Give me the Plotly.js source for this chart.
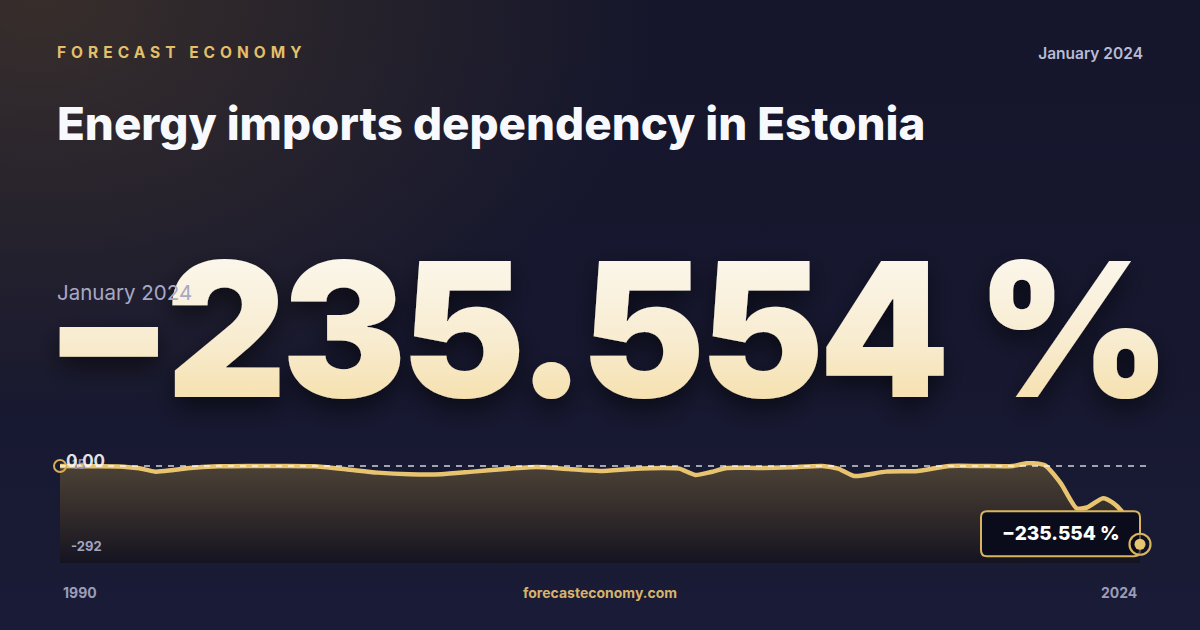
<!DOCTYPE html>
<html>
<head>
<meta charset="utf-8">
<script src="https://cdn.plot.ly/plotly-3.0.1.min.js"></script>
<style>
  html, body { margin:0; padding:0; width:1200px; height:630px; overflow:hidden; }
  body {
    background:
      radial-gradient(ellipse 620px 420px at 40px 0px, rgba(84,66,44,0.55), rgba(84,66,44,0) 100%),
      linear-gradient(180deg, #15162b 0%, #171830 60%, #1a1b36 100%);
    font-family: Inter, "Noto Sans", sans-serif;
  }
  #head { position:absolute; left:0; top:0; width:1200px; height:630px; }
  #chart { position:absolute; left:0; top:0; width:1200px; height:630px; }
</style>
</head>
<body>
<svg id="head" width="1200" height="630" xmlns="http://www.w3.org/2000/svg">
  <defs>
    <linearGradient id="numGrad" x1="0" y1="0" x2="0" y2="1">
      <stop offset="0" stop-color="#fdfcf9"/>
      <stop offset="0.55" stop-color="#f8ecd0"/>
      <stop offset="1" stop-color="#f4d998"/>
    </linearGradient>
    <filter id="shadow" x="-10%" y="-20%" width="120%" height="150%">
      <feDropShadow dx="0" dy="10" stdDeviation="12" flood-color="#000000" flood-opacity="0.55"/>
    </filter>
  </defs>
  <text id="eyebrow" x="57" y="58" font-family="Inter" font-size="15.5" font-weight="700" letter-spacing="5" fill="#e3bf6a"></text>
  <text id="date" x="1143" y="59" text-anchor="end" font-family="Inter" font-size="15.5" font-weight="600" fill="#b9bbd3"></text>
  <text id="title" x="57" y="140" font-family="Inter" font-size="45.7" font-weight="800" fill="#f8f9fc"></text>
  <text id="big" x="44" y="397" font-family="Inter" font-size="187" font-weight="900" letter-spacing="-5.5" fill="url(#numGrad)" filter="url(#shadow)"></text>
  <text id="sub" x="57" y="300" font-family="Inter" font-size="20.5" font-weight="400" fill="#a7a9c4"></text>
</svg>
<div id="chart"></div>
<script>
// ---- text content ----
const brand = "FORECAST ECONOMY";
const periodLabel = "January 2024";
const chartTitle = "Energy imports dependency in Estonia";
const latestLabel = "−235.554 %";
const site = "forecasteconomy.com";
const startYearLabel = "1990";
const endYearLabel = "2024";
const yMaxLabel = "15";
const yMinLabel = "-292";
const startValueLabel = "0.00";

// ---- data ----
const dates = [
  "1990-01-01","1991-01-01","1992-01-01","1992-07-01","1993-01-01","1993-07-01",
  "1994-01-01","1995-01-01","1996-01-01","1997-01-01","1998-01-01","1999-01-01",
  "2000-01-01","2001-01-01","2002-01-01","2003-01-01","2004-01-01","2005-01-01",
  "2006-01-01","2007-01-01","2008-01-01","2009-01-01","2009-07-01","2010-01-01",
  "2010-07-01","2011-01-01","2012-01-01","2013-01-01","2014-01-01","2014-07-01",
  "2015-01-01","2016-01-01","2017-01-01","2018-01-01","2019-01-01","2020-01-01",
  "2020-07-01","2021-01-01","2021-07-01","2022-01-01","2022-05-01","2022-11-01",
  "2023-03-01","2023-07-01","2024-01-01"
];
const values = [
  0, -1, -2, -7, -17, -13,
  -7, -1, 0, 0, -1, -10,
  -20, -25, -25, -17, -9, -3,
  -9, -15, -9, -6, -8, -27,
  -18, -6, -6, -4, 0, -8,
  -30, -17, -15, 0, 0, 0,
  9, 2, -51, -127, -125, -97,
  -112, -145, -235.554
];
const yMin = -292;
const yMax = 15;

const gold = "#e8c470";
const n = dates.length;
const lastX = dates[n-1], lastY = values[n-1];

const baseline = {
  x: dates, y: dates.map(() => yMin), type: "scatter", mode: "lines",
  line: {width: 0, color: "rgba(0,0,0,0)"}, hoverinfo: "skip", showlegend: false
};
const area = {
  x: dates, y: values, type: "scatter", mode: "lines",
  line: {color: gold, width: 4.5, shape: "spline", smoothing: 0.6},
  fill: "tonexty",
  fillgradient: {
    type: "vertical",
    colorscale: [[0, "rgba(20,19,32,0.96)"], [0.55, "rgba(54,46,42,0.95)"], [1, "rgba(78,67,54,0.95)"]],
    start: yMin, stop: 0
  },
  showlegend: false, hoverinfo: "skip"
};
const startDot = {
  x: [dates[0]], y: [values[0]], type: "scatter", mode: "markers",
  marker: {symbol: "circle-open", size: 12, line: {width: 2, color: "#d7ac52"}, color: "#d7ac52"},
  showlegend: false, hoverinfo: "skip", cliponaxis: false
};

const layout = {
  width: 1200, height: 630,
  margin: {l: 60, r: 60, t: 461, b: 67, pad: 0},
  paper_bgcolor: "rgba(0,0,0,0)", plot_bgcolor: "rgba(0,0,0,0)",
  xaxis: {type: "date", range: [dates[0], lastX], visible: false, fixedrange: true},
  yaxis: {range: [yMin, yMax], visible: false, fixedrange: true},
  font: {family: "Inter, 'Noto Sans', sans-serif"},
  shapes: [
    {type: "line", xref: "paper", yref: "y", x0: 0, x1: 1.006, y0: 0, y1: 0,
     line: {color: "rgba(255,255,255,0.8)", width: 1.3, dash: "6px,6px"}, layer: "above"},
    // label box and end marker, anchored at the last point (x = right end of the axis)
    {type: "path", xref: "paper", yref: "y", xsizemode: "pixel", ysizemode: "pixel",
     xanchor: 1, yanchor: lastY,
     path: "M -153 33 L -6 33 Q 0 33 0 27 L 0 -6 Q 0 -12 -6 -12 L -153 -12 Q -159 -12 -159 -6 L -159 27 Q -159 33 -153 33 Z",
     fillcolor: "#0b0c1b", line: {color: "#d9b45f", width: 2}, layer: "above"},
    {type: "circle", xref: "paper", yref: "y", xsizemode: "pixel", ysizemode: "pixel",
     xanchor: 1, yanchor: lastY, x0: -10.5, x1: 10.5, y0: -10.5, y1: 10.5,
     fillcolor: "rgba(11,12,27,0.6)", line: {color: "#d9b45f", width: 2.2}, layer: "above"},
    {type: "circle", xref: "paper", yref: "y", xsizemode: "pixel", ysizemode: "pixel",
     xanchor: 1, yanchor: lastY, x0: -5.5, x1: 5.5, y0: -5.5, y1: 5.5,
     fillcolor: "#e6c472", line: {width: 0}, layer: "above"}
  ],
  annotations: [
    {xref: "paper", yref: "y", x: 0, y: yMax, xshift: 10, yshift: -3, xanchor: "left", yanchor: "middle",
     text: yMaxLabel, showarrow: false, font: {size: 13, color: "#8d90ae", weight: 700}},
    {xref: "paper", yref: "y", x: 0, y: values[0], xshift: 4, yshift: 5, xanchor: "left", yanchor: "middle",
     text: startValueLabel, showarrow: false, font: {size: 17, color: "rgba(245,245,248,0.92)", weight: 700}},
    {xref: "paper", yref: "y", x: 0, y: yMin, xshift: 9, yshift: 17, xanchor: "left", yanchor: "middle",
     text: yMinLabel, showarrow: false, font: {size: 13, color: "#a3a6c2", weight: 700}},
    {xref: "x", yref: "y", x: lastX, y: lastY, xshift: -80, yshift: 11, xanchor: "center", yanchor: "middle",
     text: latestLabel, showarrow: false, font: {size: 19, color: "#ffffff", weight: 800}},
    {xref: "paper", yref: "paper", x: 0, y: 0, xshift: 1, yshift: -29, xanchor: "left", yanchor: "middle",
     text: startYearLabel, showarrow: false, font: {size: 14, color: "#9a9dba", weight: 700}},
    {xref: "paper", yref: "paper", x: 1, y: 0, xshift: -1, yshift: -29, xanchor: "right", yanchor: "middle",
     text: endYearLabel, showarrow: false, font: {size: 14, color: "#9a9dba", weight: 700}},
    {xref: "paper", yref: "paper", x: 0.5, y: 0, yshift: -29, xanchor: "center", yanchor: "middle",
     text: site, showarrow: false, font: {size: 14, color: "#d6b36b", weight: 700}}
  ]
};

document.getElementById("eyebrow").textContent = brand;
document.getElementById("date").textContent = periodLabel;
document.getElementById("title").textContent = chartTitle;
document.getElementById("big").textContent = latestLabel;
document.getElementById("sub").textContent = periodLabel;

Plotly.newPlot("chart", [baseline, area, startDot], layout, {staticPlot: true, displayModeBar: false});
</script>
</body>
</html>
